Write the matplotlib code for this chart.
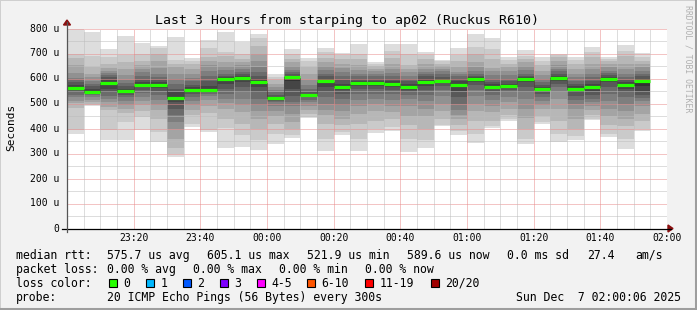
import matplotlib
matplotlib.use("Agg")
import matplotlib.pyplot as plt
from matplotlib.lines import Line2D
from matplotlib.patches import Rectangle, Polygon

W, H = 697, 310

title = "Last 3 Hours from starping to ap02 (Ruckus R610)"
time_ticks = [20, 40, 60, 80, 100, 120, 140, 160, 180]  # minutes after 23:00
time_labels = ["23:20", "23:40", "00:00", "00:20", "00:40", "01:00", "01:20", "01:40", "02:00"]
y_ticks = [0, 100, 200, 300, 400, 500, 600, 700, 800]
y_labels = ["0", "100 u", "200 u", "300 u", "400 u", "500 u", "600 u", "700 u", "800 u"]
step = 5  # minutes between samples

# median rtt per 5 min sample (us)
medians = [563, 547, 583, 551, 574, 574, 524, 554, 554, 597, 601, 587,
           522, 605, 534, 591, 567, 583, 583, 578, 567, 587, 591, 574,
           597, 567, 571, 597, 558, 603, 558, 566, 599, 574, 590]

# the 20 sorted ping times of every sample (us)
pings = [
    [379, 394, 481, 501, 510, 525, 535, 545, 553, 560, 567, 575, 585, 595, 601, 621, 654, 681, 697, 798],
    [490, 494, 500, 506, 515, 525, 535, 540, 545, 548, 552, 560, 570, 578, 590, 605, 618, 647, 690, 785],
    [354, 394, 474, 487, 505, 520, 530, 545, 560, 575, 585, 595, 605, 615, 622, 630, 642, 660, 686, 718],
    [354, 427, 461, 480, 494, 510, 527, 535, 542, 548, 553, 560, 570, 581, 595, 614, 640, 667, 694, 770],
    [394, 447, 470, 494, 510, 525, 541, 555, 565, 572, 576, 585, 595, 610, 625, 640, 654, 670, 697, 743],
    [347, 387, 440, 474, 495, 515, 535, 550, 562, 570, 577, 585, 595, 605, 620, 641, 670, 700, 721, 731],
    [286, 300, 321, 360, 400, 427, 455, 480, 505, 518, 528, 545, 560, 580, 600, 620, 647, 660, 674, 765],
    [407, 420, 454, 475, 495, 510, 525, 540, 548, 552, 556, 565, 575, 590, 601, 620, 640, 660, 672, 681],
    [387, 394, 461, 490, 515, 530, 540, 548, 552, 555, 558, 570, 590, 610, 630, 654, 670, 687, 723, 754],
    [321, 401, 440, 480, 501, 520, 540, 560, 580, 593, 600, 605, 612, 620, 634, 650, 667, 690, 705, 787],
    [327, 374, 420, 467, 495, 520, 545, 565, 585, 597, 604, 610, 618, 628, 640, 655, 667, 680, 697, 747],
    [314, 355, 400, 440, 470, 495, 520, 545, 565, 580, 592, 600, 610, 625, 645, 670, 700, 730, 761, 777],
    [338, 380, 420, 450, 470, 490, 505, 512, 516, 519, 524, 528, 535, 545, 555, 565, 580, 595, 607, 617],
    [364, 374, 400, 427, 460, 490, 507, 530, 560, 590, 605, 612, 618, 625, 635, 650, 665, 680, 697, 718],
    [441, 445, 460, 475, 490, 505, 515, 525, 530, 533, 536, 540, 548, 560, 575, 595, 620, 645, 670, 683],
    [310, 360, 420, 455, 475, 500, 525, 545, 565, 585, 595, 600, 610, 620, 635, 650, 665, 681, 705, 723],
    [374, 387, 414, 440, 470, 495, 520, 540, 555, 563, 570, 580, 595, 610, 625, 641, 660, 680, 695, 701],
    [312, 360, 420, 460, 490, 515, 540, 560, 572, 580, 586, 592, 600, 610, 620, 635, 655, 680, 700, 740],
    [383, 400, 430, 470, 500, 520, 540, 560, 572, 580, 586, 592, 600, 610, 620, 630, 640, 650, 660, 667],
    [392, 405, 440, 467, 490, 515, 540, 555, 565, 574, 582, 590, 600, 610, 621, 640, 660, 681, 710, 738],
    [307, 360, 414, 450, 490, 520, 535, 545, 556, 563, 570, 580, 590, 600, 612, 625, 640, 654, 700, 738],
    [321, 355, 400, 450, 480, 510, 535, 555, 570, 582, 592, 600, 610, 620, 627, 640, 660, 680, 695, 707],
    [409, 414, 440, 470, 500, 530, 555, 570, 582, 588, 594, 600, 608, 618, 630, 640, 650, 660, 670, 674],
    [374, 390, 414, 440, 454, 475, 500, 525, 550, 568, 580, 590, 600, 610, 620, 627, 645, 670, 695, 723],
    [343, 380, 430, 470, 500, 530, 555, 575, 588, 595, 600, 605, 612, 620, 630, 645, 665, 700, 725, 780],
    [403, 410, 430, 465, 490, 515, 535, 550, 560, 565, 570, 578, 588, 600, 615, 630, 641, 680, 720, 762],
    [432, 440, 455, 480, 505, 525, 545, 555, 563, 568, 574, 580, 590, 600, 615, 630, 645, 660, 675, 688],
    [338, 360, 400, 441, 480, 520, 545, 565, 585, 594, 600, 605, 612, 620, 634, 650, 665, 680, 690, 714],
    [420, 425, 450, 480, 494, 510, 525, 540, 550, 556, 561, 568, 575, 585, 600, 615, 630, 654, 672, 687],
    [347, 380, 430, 480, 520, 545, 565, 580, 592, 600, 606, 612, 620, 630, 640, 655, 670, 685, 695, 700],
    [355, 370, 400, 440, 480, 500, 515, 530, 545, 554, 562, 570, 580, 592, 605, 620, 640, 660, 675, 686],
    [434, 440, 455, 475, 490, 505, 520, 535, 550, 560, 570, 580, 592, 605, 620, 640, 660, 687, 705, 727],
    [367, 380, 414, 450, 480, 510, 540, 565, 585, 595, 602, 608, 615, 622, 632, 645, 658, 670, 680, 687],
    [320, 360, 410, 440, 470, 500, 525, 545, 560, 570, 578, 586, 595, 605, 620, 640, 660, 690, 710, 734],
    [390, 400, 430, 460, 490, 510, 522, 535, 550, 570, 590, 600, 610, 620, 632, 645, 657, 670, 685, 704],
]

loss_labels = ["0", "1", "2", "3", "4-5", "6-10", "11-19", "20/20"]
loss_colors = ["#26ff00", "#00b8ff", "#0059ff", "#7e00ff", "#ff00ff", "#ff5500", "#ff0000", "#a10000"]

stats_rtt = ["575.7 us avg", "605.1 us max", "521.9 us min", "589.6 us now", "0.0 ms sd", "27.4", "am/s"]
stats_loss = ["0.00 % avg", "0.00 % max", "0.00 % min", "0.00 % now"]
probe_text = "20 ICMP Echo Pings (56 Bytes) every 300s"
stamp = "Sun Dec  7 02:00:06 2025"

MONO = "DejaVu Sans Mono"


def fx(x):
    return x / W


def fy(y):
    return 1 - y / H


fig = plt.figure(figsize=(W / 100, H / 100), dpi=100, facecolor="#f2f2f2")

# rrdtool style 3d frame
fig.add_artist(Rectangle((0, 0), 1, 1, transform=fig.transFigure, fill=False,
                         edgecolor="#cfcfcf", lw=1.4))
fig.add_artist(Line2D([fx(0), fx(W - 1)], [fy(H - 1), fy(H - 1)], color="#9e9e9e", lw=2.2))
fig.add_artist(Line2D([fx(W - 1), fx(W - 1)], [fy(0), fy(H)], color="#9e9e9e", lw=2.2))

ax = fig.add_axes([fx(67), fy(228.5), 600 / W, 200 / H])
ax.set_facecolor("white")
ax.set_xlim(0, 180)
ax.set_ylim(0, 800)
for s in ax.spines.values():
    s.set_visible(False)
ax.set_xticks([])
ax.set_yticks([])

# smoke: pair i-th fastest with i-th slowest, lighter on the outside
half = len(pings[0]) // 2
for n, row in enumerate(pings):
    x0 = n * step
    for i in range(half):
        grey = int(190 / half * (half - 1 - i)) + 50
        col = "#%02x%02x%02x" % (grey, grey, grey)
        lo, hi = row[i], row[-1 - i]
        ax.bar(x0, hi - lo, bottom=lo, width=step, align="edge", color=col,
               linewidth=0, antialiased=False, zorder=2)

# grid on top of the smoke, dotted
dot = (0, (1, 1))
for v in range(50, 801, 100):
    ax.axhline(v, color="#bcbcbc", lw=0.72, linestyle=dot, zorder=3)
for v in range(100, 801, 100):
    ax.axhline(v, color="#e88a8a", lw=0.72, linestyle=dot, zorder=3)
for t in range(5, 181, 5):
    if t % 20:
        ax.axvline(t, color="#bcbcbc", lw=0.72, linestyle=dot, zorder=3)
for t in time_ticks:
    ax.axvline(t, color="#e88a8a", lw=0.72, linestyle=dot, zorder=3)

# median step connectors and green median bars
for n in range(1, len(medians)):
    a, b = medians[n - 1], medians[n]
    ax.vlines(n * step, min(a, b), max(a, b), color="#111111", lw=0.72,
              linestyle=dot, zorder=4)
for n, m in enumerate(medians):
    ax.hlines(m, n * step, (n + 1) * step, color=loss_colors[0], lw=2.3, zorder=5)

# axes with arrows
fig.add_artist(Line2D([fx(62), fx(671)], [fy(228.5), fy(228.5)], color="black", lw=0.9))
fig.add_artist(Line2D([fx(67), fx(67)], [fy(232), fy(22)], color="#555555", lw=0.9))
fig.add_artist(Polygon([[fx(668), fy(225)], [fx(668), fy(232)], [fx(673), fy(228.5)]],
                       closed=True, transform=fig.transFigure, color="#8b1010"))
fig.add_artist(Polygon([[fx(63.5), fy(25)], [fx(70.5), fy(25)], [fx(67), fy(20)]],
                       closed=True, transform=fig.transFigure, color="#8b1010"))

# tick labels
for t, lab in zip(time_ticks, time_labels):
    px = 67 + t / 180 * 600
    fig.text(fx(px), fy(241), lab, ha="center", va="baseline", family=MONO,
             fontsize=7, color="black")
for v, lab in zip(y_ticks, y_labels):
    py = 228.5 - v / 4
    fig.text(fx(59.5), fy(py), lab, ha="right", va="center", family=MONO,
             fontsize=7, color="black")

fig.text(fx(347), fy(24), title, ha="center", va="baseline", family=MONO, fontsize=9.5)
fig.text(fx(11), fy(127), "Seconds", ha="center", va="center", rotation=90,
         family=MONO, fontsize=8)
fig.text(fx(688), fy(5), "RRDTOOL / TOBI OETIKER", ha="center", va="top", rotation=270,
         family=MONO, fontsize=5.9, color="#b0b0b0")

# legend block
lfs = 8.3
fig.text(fx(16), fy(259), "median rtt:", family=MONO, fontsize=lfs, va="baseline")
for px, s in zip([107.3, 207.3, 307.3, 407.3, 507.3, 586.7, 635], stats_rtt):
    fig.text(fx(px), fy(259), s, family=MONO, fontsize=lfs, va="baseline")
fig.text(fx(16), fy(273), "packet loss:", family=MONO, fontsize=lfs, va="baseline")
for px, s in zip([107.3, 193.3, 279.3, 365], stats_loss):
    fig.text(fx(px), fy(273), s, family=MONO, fontsize=lfs, va="baseline")
fig.text(fx(16), fy(287), "loss color:", family=MONO, fontsize=lfs, va="baseline")
box_x = [109, 146, 182.7, 219.7, 256.7, 307, 365.3, 430.7]
for bx, lab, col in zip(box_x, loss_labels, loss_colors):
    fig.add_artist(Rectangle((fx(bx), fy(286.5)), 8 / W, 8 / H, transform=fig.transFigure,
                             facecolor=col, edgecolor="black", lw=0.8))
    fig.text(fx(bx + 14.5), fy(287), lab, family=MONO, fontsize=lfs, va="baseline")
fig.text(fx(16), fy(301), "probe:", family=MONO, fontsize=lfs, va="baseline")
fig.text(fx(107.3), fy(301), probe_text, family=MONO, fontsize=lfs, va="baseline")
fig.text(fx(681), fy(301), stamp, family=MONO, fontsize=lfs, va="baseline", ha="right")

fig.savefig("out.png", dpi=100, facecolor=fig.get_facecolor())
